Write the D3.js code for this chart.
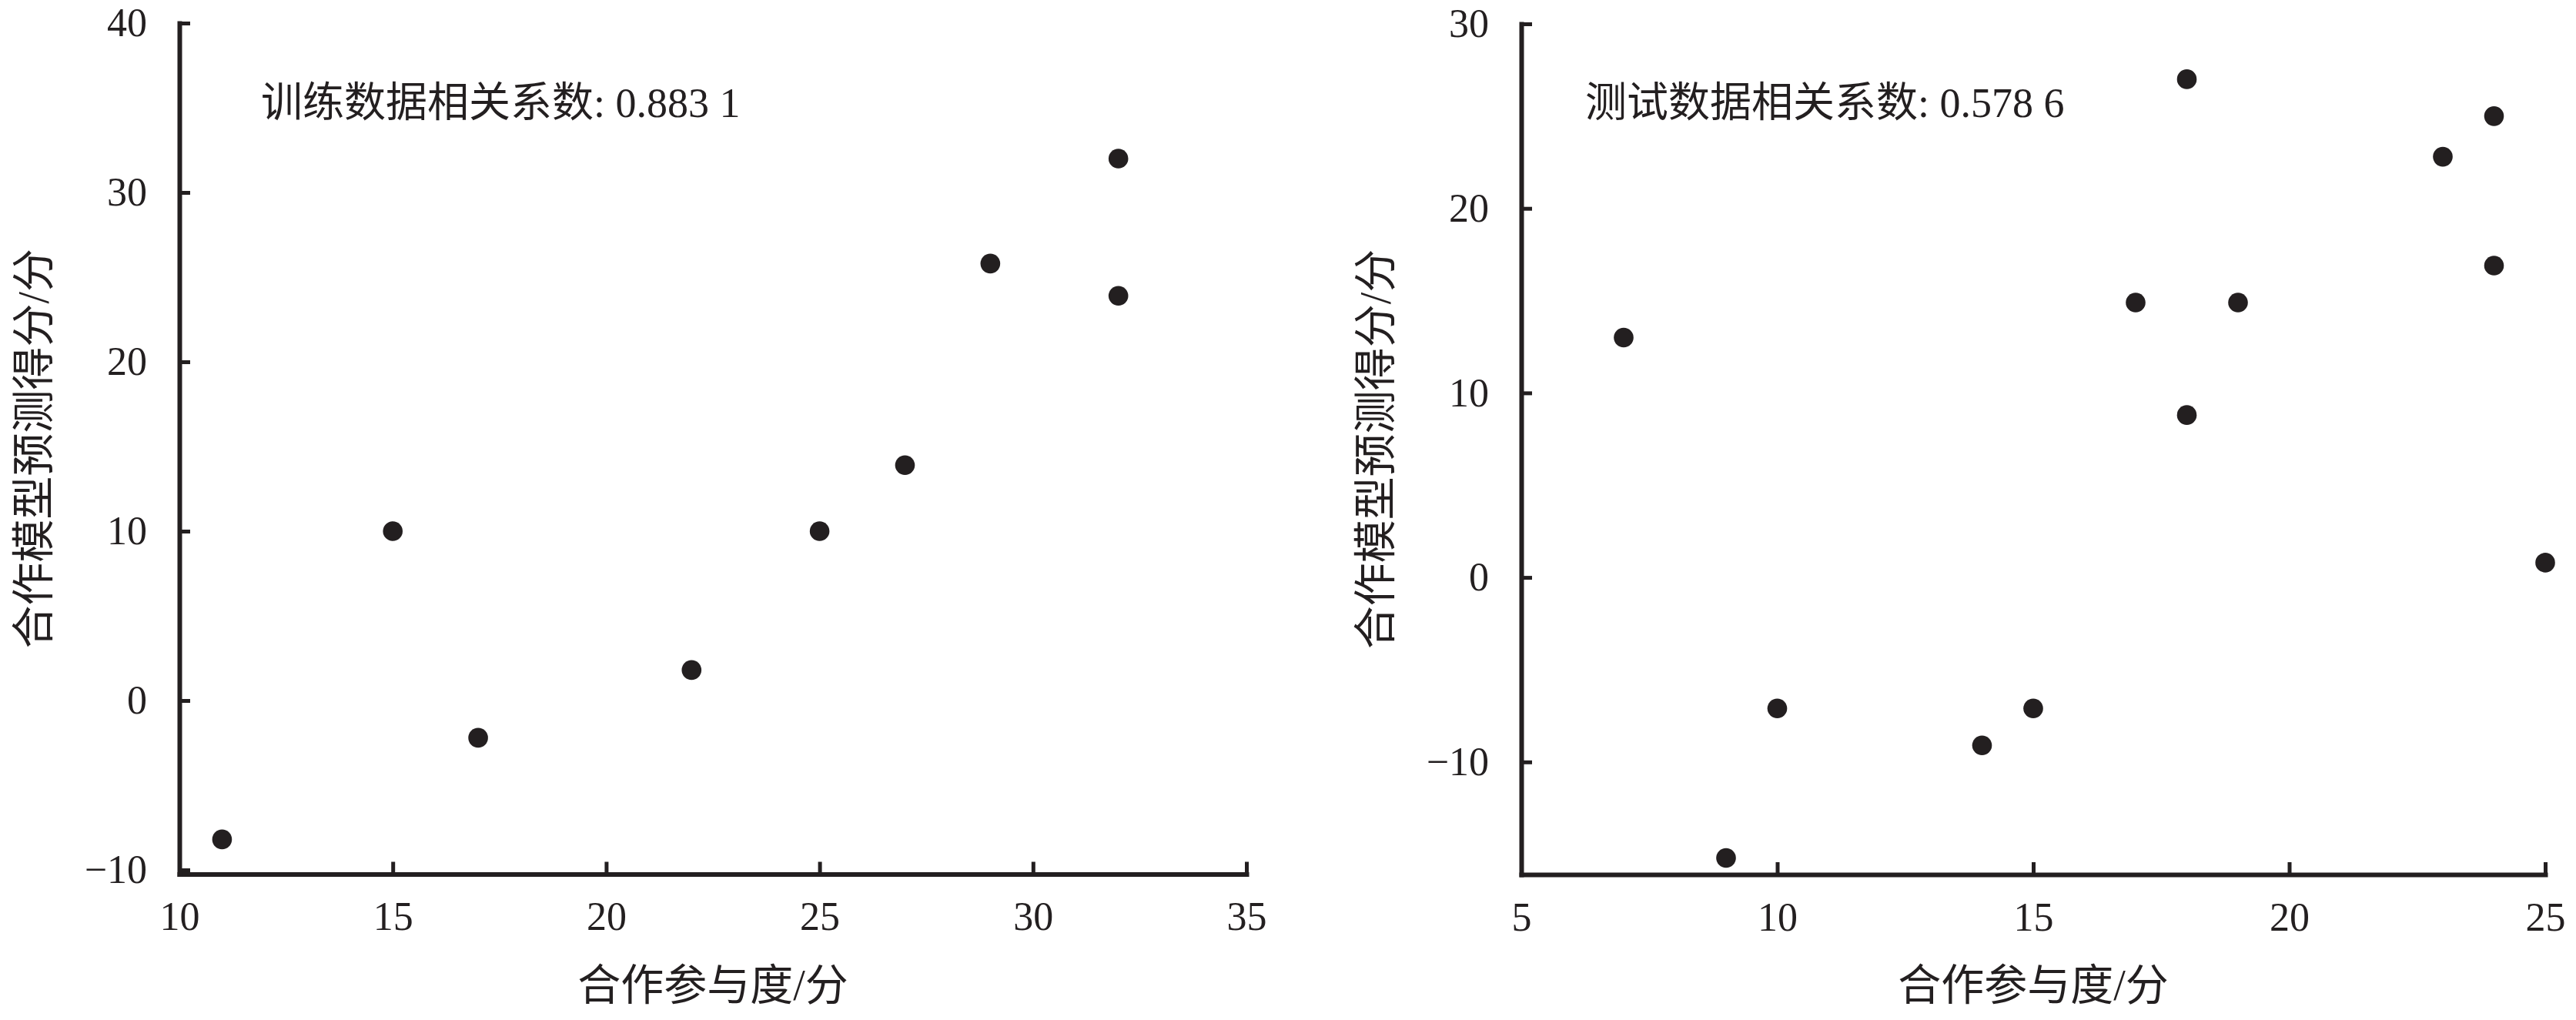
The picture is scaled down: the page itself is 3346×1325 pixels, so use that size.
<!DOCTYPE html>
<html><head><meta charset="utf-8">
<script src="https://cdn.jsdelivr.net/npm/d3@7/dist/d3.min.js"></script>
<style>html,body{margin:0;padding:0;background:#fff;}svg{display:block;}</style>
</head><body>
<svg id="c" width="3346" height="1325"></svg>
<script>
// ---- data ----
const trainX = [11, 15, 17, 22, 25, 27, 29, 32, 32];
const trainY = [-8.2, 10, -2.2, 1.8, 10, 13.9, 25.8, 32, 23.9];
const testX = [7, 9, 10, 14, 15, 17, 18, 18, 19, 23, 24, 24, 25];
const testY = [13, -15.2, -7.1, -9.1, -7.1, 14.9, 27, 8.8, 14.9, 22.8, 25, 16.9, 0.8];
const leftXTicks = [10, 15, 20, 25, 30, 35];
const leftYTicks = [-10, 0, 10, 20, 30, 40];
const rightXTicks = [5, 10, 15, 20, 25];
const rightYTicks = [-10, 0, 10, 20, 30];
const leftNote = "训练数据相关系数: 0.883 1";
const rightNote = "测试数据相关系数: 0.578 6";
const xTitle = "合作参与度/分";
const yTitle = "合作模型预测得分/分";

const INK = "#231f20";
const FONT = "'Liberation Serif', 'Noto Sans CJK SC', serif";
const svg = d3.select("#c");
const fmt = d => (d < 0 ? "\u2212" + Math.abs(d) : String(d));

function panel(cfg) {
  const x = d3.scaleLinear().domain(cfg.xDom).range(cfg.xRange);
  const y = d3.scaleLinear().domain(cfg.yDom).range(cfg.yRange);
  const g = svg.append("g");
  const x0 = cfg.xRange[0], yb = cfg.yRange[0];

  const ax = d3.axisBottom(x).tickValues(cfg.xTicks).tickFormat(fmt)
    .tickSizeInner(-16).tickSizeOuter(0).tickPadding(36);
  const gx = g.append("g").attr("font-family", null).attr("transform", `translate(0,${yb})`).call(ax);

  const ay = d3.axisLeft(y).tickValues(cfg.yTicks.filter(v => v >= cfg.yDom[0])).tickFormat(fmt)
    .tickSizeInner(-14).tickSizeOuter(0).tickPadding(42);
  const gy = g.append("g").attr("transform", `translate(${x0},0)`).call(ay);

  [gx, gy].forEach(a => {
    a.attr("font-family", FONT).attr("font-size", 52);
    a.select(".domain").attr("stroke", INK).attr("stroke-width", 6).attr("stroke-linecap", "square");
    a.selectAll(".tick line").attr("stroke", INK).attr("stroke-width", 5);
    a.selectAll(".tick text").attr("fill", INK).style("font-family", FONT).style("font-size", "52px");
  });
  gx.selectAll(".tick text").attr("dy", "0.71em");

  g.selectAll("circle.pt").data(cfg.xs.map((v, i) => [v, cfg.ys[i]])).enter()
    .append("circle").attr("class", "pt")
    .attr("cx", d => x(d[0])).attr("cy", d => y(d[1])).attr("r", 12.8).attr("fill", INK);

  g.append("text").attr("x", x0 + cfg.noteDx).attr("y", 152)
    .attr("fill", INK).style("font-family", FONT).style("font-size", "54px").text(cfg.note);

  g.append("text").attr("x", (cfg.xRange[0] + cfg.xRange[1]) / 2).attr("y", 1299)
    .attr("text-anchor", "middle").attr("fill", INK)
    .style("font-family", FONT).style("font-size", "56px").text(xTitle);

  const yc = (cfg.yRange[0] + cfg.yRange[1]) / 2;
  g.append("text").attr("transform", `translate(${x0 - 189},${yc}) rotate(-90)`)
    .attr("text-anchor", "middle").attr("dominant-baseline", "central").attr("fill", INK)
    .style("font-family", FONT).style("font-size", "56px").text(yTitle);
}

panel({ xDom: [10, 35], xRange: [233, 1619], yDom: [-10.25, 40], yRange: [1135.5, 30],
  xTicks: leftXTicks, yTicks: leftYTicks, xs: trainX, ys: trainY, note: leftNote, noteDx: 106 });
panel({ xDom: [5, 25], xRange: [1976, 3306], yDom: [-16.1, 30], yRange: [1136, 31],
  xTicks: rightXTicks, yTicks: rightYTicks, xs: testX, ys: testY, note: rightNote, noteDx: 83 });
</script>
</body></html>
